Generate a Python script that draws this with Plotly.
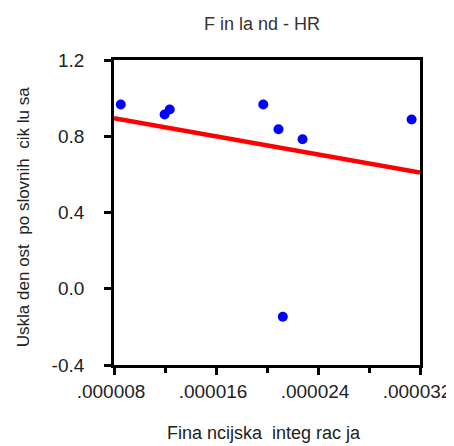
import numpy as np
import plotly.graph_objects as go

# Financial integration (x) vs business cycle synchronisation (y), Finland - HR
fin_integration = [8.53e-6, 11.97e-6, 12.37e-6, 19.71e-6, 20.90e-6, 21.24e-6, 22.79e-6, 31.34e-6]
cycle_sync = [0.967, 0.914, 0.940, 0.967, 0.837, -0.147, 0.784, 0.888]

x_tick_vals = [8e-6, 16e-6, 24e-6, 32e-6]
x_tick_text = [".000008", ".000016", ".000024", ".000032"]
y_tick_vals = [-0.4, 0.0, 0.4, 0.8, 1.2]
y_tick_text = ["-0.4", "0.0", "0.4", "0.8", "1.2"]

# Least squares fit line
slope, intercept = np.polyfit(fin_integration, cycle_sync, 1)
fit_x = [x_tick_vals[0], x_tick_vals[-1]]
fit_y = [slope * v + intercept for v in fit_x]

fig = go.Figure()

fig.add_trace(go.Scatter(
    x=fit_x, y=fit_y,
    mode="lines",
    line=dict(color="#ff0000", width=4.5),
    showlegend=False
))

fig.add_trace(go.Scatter(
    x=fin_integration, y=cycle_sync,
    mode="markers",
    marker=dict(color="#0000ff", size=10),
    showlegend=False
))

font = "Liberation Sans, Arial, sans-serif"
pad = "\u00a0\u00a0\u00a0"  # keeps y labels away from the ticks

# page body has an 8px margin, so the figure is a bit smaller than the window
fig.update_layout(
    width=446, height=438,
    margin=dict(l=106, r=34, t=52, b=81),
    plot_bgcolor="white",
    paper_bgcolor="white",
    font=dict(family=font, color="#222222"),
    title=dict(
        text="F in la nd - HR",
        x=0.5695, xanchor="center",
        y=0.965, yanchor="middle",
        font=dict(size=18, family=font, color="#333333")
    ),
    xaxis=dict(
        range=[x_tick_vals[0], x_tick_vals[-1]],
        tickvals=x_tick_vals, ticktext=x_tick_text,
        ticks="outside", ticklen=7, tickwidth=3, tickcolor="black",
        minor=dict(dtick=4e-6, ticks="outside", ticklen=5, tickwidth=3, tickcolor="black"),
        showline=True, linecolor="black", linewidth=3, mirror=True,
        showgrid=False, zeroline=False, automargin=False,
        ticklabelstandoff=0, ticklabelshift=-3,
        tickfont=dict(size=19, family=font),
    ),
    yaxis=dict(
        range=[y_tick_vals[0], y_tick_vals[-1]],
        tickvals=y_tick_vals, ticktext=[t + pad for t in y_tick_text],
        ticks="outside", ticklen=7, tickwidth=3, tickcolor="black",
        showline=True, linecolor="black", linewidth=3, mirror=True,
        showgrid=False, zeroline=False, automargin=False,
        tickfont=dict(size=19, family=font),
    ),
    annotations=[
        dict(text="Fina ncijska  integ rac ja", xref="paper", yref="paper",
             x=0.4886, y=-0.223, xanchor="center", yanchor="middle",
             showarrow=False, font=dict(size=18, family=font)),
        dict(text="Uskla den ost  po slovnih  cik lu sa", xref="paper", yref="paper",
             x=-0.297, y=0.485, xanchor="center", yanchor="middle", textangle=-90,
             showarrow=False, font=dict(size=17, family=font)),
    ]
)

fig.write_html("out.html")
